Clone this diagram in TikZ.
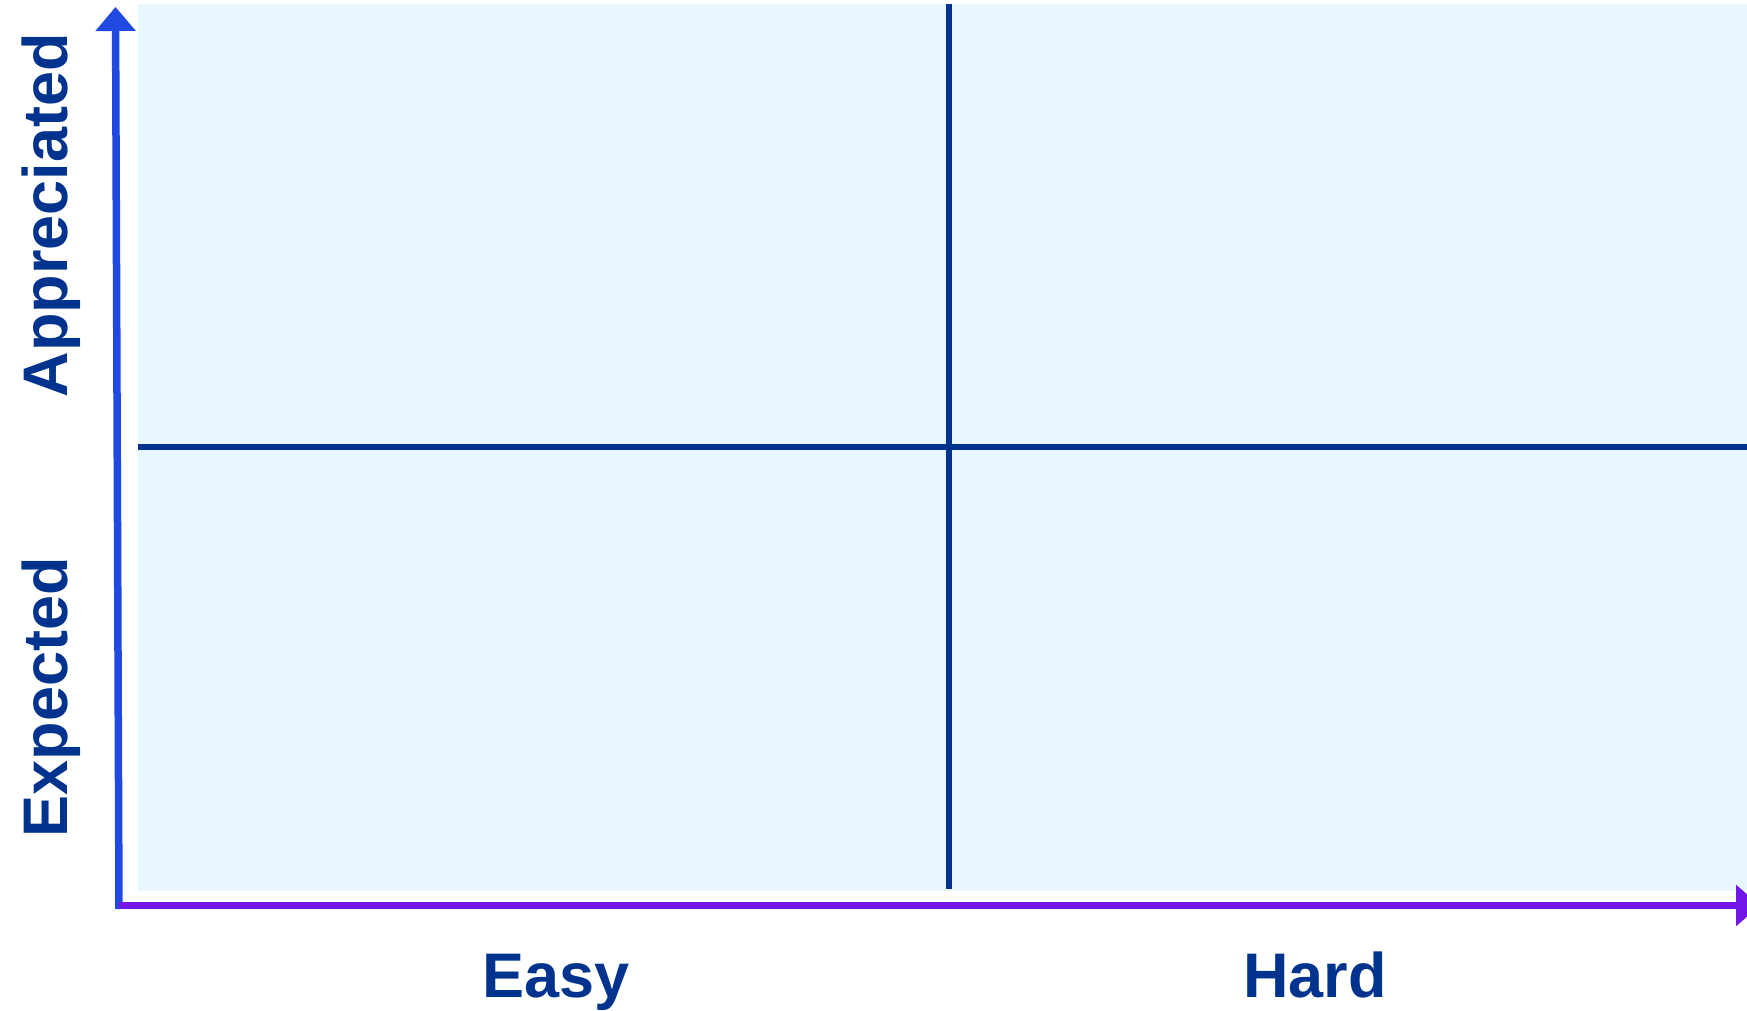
\documentclass[tikz,border=0pt]{standalone}
\usepackage{fontspec}
\setmainfont{Liberation Sans}
\usetikzlibrary{arrows.meta}
\definecolor{quadfill}{HTML}{E8F7FE}
\definecolor{navy}{HTML}{00338D}
\definecolor{yaxis}{HTML}{2049E2}
\definecolor{xaxis}{HTML}{7217E8}
\begin{document}
\begin{tikzpicture}[x=1pt,y=1pt,
  lbl/.style={font=\fontsize{63}{70}\selectfont\bfseries, text=navy, inner sep=0pt},
  divider/.style={draw=navy, line width=5.5pt},
  axisline/.style={line width=7.5pt}]
\useasboundingbox (0,0) rectangle (1747,-1011);
\clip (0,0) rectangle (1747,-1011);
\fill[quadfill] (138,-4) rectangle (1747,-891);
\coordinate (vtop) at (949,-4);
\coordinate (vbot) at (949,-889);
\coordinate (hl) at (138,-447);
\coordinate (hr) at (1747,-447);
\draw[divider] (vtop) -- (vbot);
\draw[divider] (hl) -- (hr);
\coordinate (origin) at (119,-905.5);
\coordinate (ytip) at (115.5,-7);
\coordinate (xtip) at (1760,-905.5);
\draw[axisline, draw=yaxis, -{Triangle[width=39pt,length=24pt]}] (119,-909) -- (ytip);
\draw[axisline, draw=xaxis, line width=7pt, -{Triangle[width=40pt,length=24pt]}] (origin) -- (xtip);
\node[lbl, anchor=base] (easy) at (556,-997) {Easy};
\node[lbl, anchor=base] (hard) at (1315,-997) {Hard};
\node[lbl, anchor=base, rotate=90] (appr) at (67,-215) {Appreciated};
\node[lbl, anchor=base, rotate=90] (expe) at (67,-697) {Expected};
\end{tikzpicture}
\end{document}
